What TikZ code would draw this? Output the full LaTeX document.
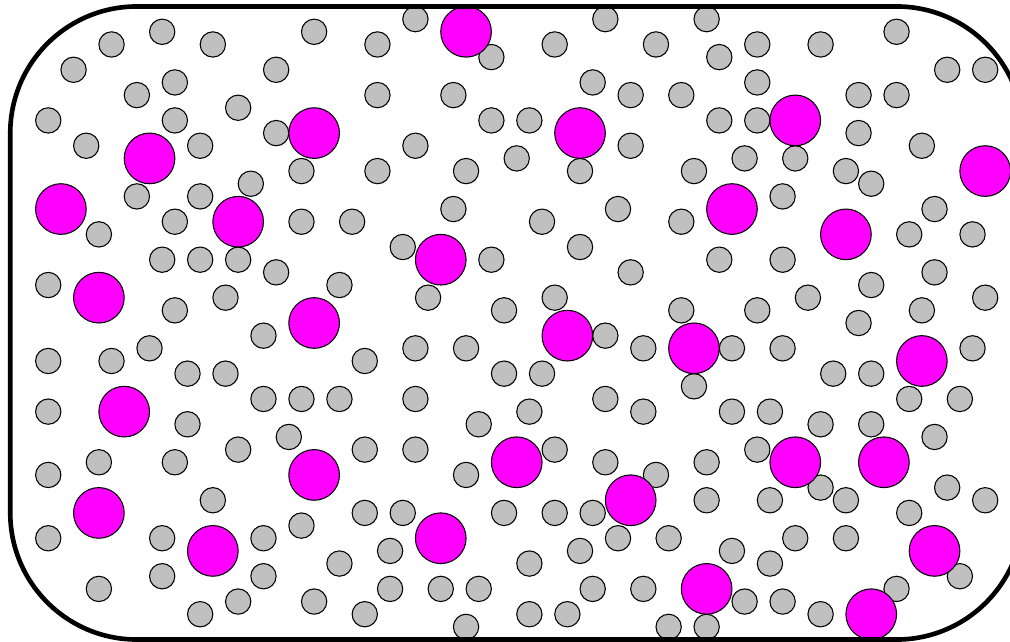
\documentclass[tikz,border=0pt]{standalone}
\usepackage{tikz}

\definecolor{silver}{RGB}{192,192,192}
\definecolor{fuchsia}{RGB}{255,0,255}

\begin{document}
\begin{tikzpicture}[x=0.25cm, y=-0.25cm, small/.style={draw=black, fill=silver, line width=0.6pt}, large/.style={draw=black, fill=fuchsia, line width=0.6pt}]
\useasboundingbox (-0.81,-0.51) rectangle (78.96,50.13);
% small particles, row by row
\foreach \j/\row in {1/{32,47,55}, 2/{12,24,70}, 3/{8,16,29,43,51,59,64}, 4/{38,56},
  5/{5,21,74,77}, 6/{13,46,59}, 7/{10,29,35,49,53,67,70}, 8/{18},
  9/{3,13,38,41,56,59}, 10/{21,67}, 11/{6,15,32,49,72}, 12/{40,58,62},
  13/{23,29,36,45,54,66}, 14/{19,68}, 15/{10,15,61}, 16/{35,48,73},
  17/{13,23,27,42,53}, 18/{7,71,76}, 19/{31,45}, 20/{12,15,18,38,56,61},
  21/{21,49,73}, 22/{3,26,68}, 23/{17,33,43,63,77}, 24/{13,39,53,59,72},
  25/{67}, 26/{20,47}, 27/{11,32,36,50,57,61,76}, 28/{3,8,28},
  29/{14,17,39,42,65,68}, 30/{54}, 31/{20,23,26,32,47,71,75}, 32/{3,41,50,57,60},
  33/{14,37,64,68}, 34/{22,73}, 35/{18,28,32,43,59}, 36/{7,13,47,55},
  37/{3,36,51}, 38/{64,74}, 39/{16,55,60,66,77}, 40/{28,31,39,43,46,71},
  41/{23}, 42/{3,12,20,48,52,62,66}, 43/{30,45,57}, 44/{26,41,60},
  45/{12,20,75}, 46/{7,30,34,37,46,50,70}, 47/{18,24,58,61}, 48/{15,28,41,44,64},
  49/{36,52,55}}
  \foreach \i in \row
    \draw[small] (\i,\j) circle[radius=0.25cm];
% large particles
\foreach \i/\j in {36/2, 24/10, 45/10, 62/9, 11/12, 77/13, 4/16, 18/17, 57/16, 66/18,
  34/20, 7/23, 24/25, 44/26, 54/27, 72/28, 9/32, 24/37, 40/36, 62/36, 69/36,
  49/39, 7/40, 34/42, 16/43, 73/43, 55/46, 68/48}
  \draw[large] (\i,\j) circle[radius=0.5cm];
% box
\draw[line width=2.6pt, rounded corners=2.5cm] (0,0) rectangle (80,50);
\end{tikzpicture}
\end{document}
